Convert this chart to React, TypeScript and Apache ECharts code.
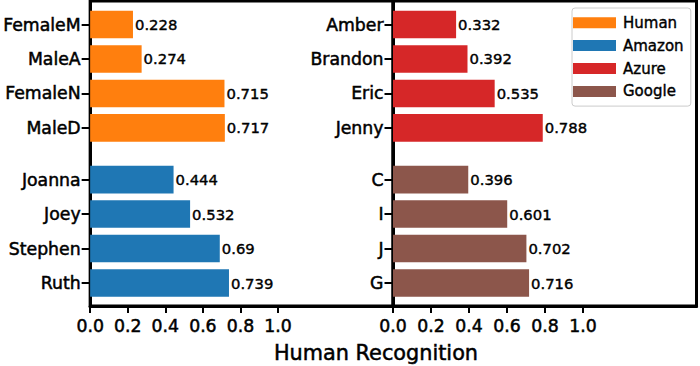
import React, { useEffect, useRef } from 'react';
import * as echarts from 'echarts';

const humanNames = ['FemaleM', 'MaleA', 'FemaleN', 'MaleD'];
const humanValues = [0.228, 0.274, 0.715, 0.717];
const amazonNames = ['Joanna', 'Joey', 'Stephen', 'Ruth'];
const amazonValues = [0.444, 0.532, 0.69, 0.739];
const azureNames = ['Amber', 'Brandon', 'Eric', 'Jenny'];
const azureValues = [0.332, 0.392, 0.535, 0.788];
const googleNames = ['C', 'I', 'J', 'G'];
const googleValues = [0.396, 0.601, 0.702, 0.716];
const topRows = [0, 1, 2, 3];
const bottomRows = [4.5, 5.5, 6.5, 7.5];
const xTicks = [0, 0.2, 0.4, 0.6, 0.8, 1.0];
const xLabel = 'Human Recognition';
const legendNames = ['Human', 'Amazon', 'Azure', 'Google'];
const colors = ['#ff7f0e', '#1f77b4', '#d62728', '#8c564b'];

const FONT = 'DejaVu Sans';
const HEAVY = { textBorderColor: '#000', textBorderWidth: 0.5 };

function makeSeries(name: string, values: number[], rows: number[], color: string, idx: number) {
  return {
    type: 'custom',
    name,
    xAxisIndex: idx,
    yAxisIndex: idx,
    itemStyle: { color },
    encode: { x: 0, y: 1 },
    data: values.map((v, i) => [v, rows[i]]),
    renderItem: (params: any, api: any) => {
      const v = api.value(0);
      const p = api.value(1);
      const s = api.coord([0, p]);
      const e = api.coord([v, p]);
      const h = Math.abs(api.size([0, 0.8])[1]);
      return {
        type: 'group',
        children: [
          {
            type: 'rect',
            shape: { x: s[0], y: s[1] - h / 2, width: e[0] - s[0], height: h },
            style: { fill: color },
          },
          {
            type: 'text',
            x: e[0] + 2,
            y: e[1],
            style: {
              text: String(v),
              fill: '#000',
              stroke: '#000',
              lineWidth: 0.4,
              fontSize: 14.8,
              fontFamily: FONT,
              align: 'left',
              textAlign: 'left',
              verticalAlign: 'middle',
              textVerticalAlign: 'middle',
            },
          },
        ],
      };
    },
  };
}

export default function App() {
  const ref = useRef<HTMLDivElement>(null);
  useEffect(() => {
    document.body.style.margin = '0';
    const chart = echarts.init(ref.current!, null, { renderer: 'svg' });
    const rows = [...topRows, ...bottomRows];
    const names = [
      [...humanNames, ...amazonNames],
      [...azureNames, ...googleNames],
    ];
    const nameAt = (i: number, v: number) => {
      const k = rows.findIndex((r) => Math.abs(r - v) < 1e-6);
      return k >= 0 ? names[i][k] : '';
    };
    const tickLine = { color: '#000', width: 2 };
    const axisLine = { show: true, onZero: false, lineStyle: { color: '#000', width: 3 } };
    chart.setOption({
      animation: false,
      textStyle: { fontFamily: FONT },
      grid: [
        { left: 85, top: 1, width: 308, height: 305, show: true, borderColor: '#000', borderWidth: 3, backgroundColor: 'transparent' },
        { left: 393, top: 1, width: 303.5, height: 305, show: true, borderColor: '#000', borderWidth: 3, backgroundColor: 'transparent' },
      ],
      xAxis: [0, 1].map((i) => ({
        type: 'value',
        gridIndex: i,
        position: 'bottom',
        min: 0,
        max: i === 0 ? 1.612 : 1.597,
        splitLine: { show: false },
        axisLine,
        axisTick: { show: true, inside: false, customValues: xTicks, length: 7, lineStyle: tickLine },
        axisLabel: {
          customValues: xTicks,
          formatter: (v: number) => v.toFixed(1),
          fontSize: 17.3,
          color: '#000',
          margin: 11,
          fontFamily: FONT,
          ...HEAVY,
        },
      })),
      yAxis: [0, 1].map((i) => ({
        type: 'value',
        gridIndex: i,
        position: 'left',
        inverse: true,
        min: -0.682,
        max: 8.167,
        splitLine: { show: false },
        axisLine,
        axisTick: { show: true, inside: false, customValues: rows, length: 8.5, lineStyle: tickLine },
        axisLabel: {
          customValues: rows,
          formatter: (v: number) => nameAt(i, v),
          fontSize: 17.3,
          color: '#000',
          margin: 9.5,
          fontFamily: FONT,
          ...HEAVY,
        },
      })),
      legend: {
        data: legendNames,
        orient: 'vertical',
        left: 572,
        top: 8,
        icon: 'rect',
        itemWidth: 43,
        itemHeight: 11,
        itemGap: 7.5,
        padding: [7, 7, 7, 1],
        borderColor: '#cccccc',
        borderWidth: 1,
        borderRadius: 3,
        backgroundColor: '#fff',
        textStyle: { fontSize: 15, color: '#000', fontFamily: FONT, padding: [0, 0, 0, 2], textBorderColor: '#000', textBorderWidth: 0.4 },
      },
      graphic: [
        {
          type: 'text',
          x: 376,
          y: 353,
          style: {
            text: xLabel,
            fontSize: 20.8,
            fontFamily: FONT,
            fill: '#000',
            stroke: '#000',
            lineWidth: 0.5,
            align: 'center',
            textAlign: 'center',
            verticalAlign: 'middle',
            textVerticalAlign: 'middle',
          },
        },
      ],
      series: [
        makeSeries(legendNames[0], humanValues, topRows, colors[0], 0),
        makeSeries(legendNames[1], amazonValues, bottomRows, colors[1], 0),
        makeSeries(legendNames[2], azureValues, topRows, colors[2], 1),
        makeSeries(legendNames[3], googleValues, bottomRows, colors[3], 1),
      ],
    });
    return () => chart.dispose();
  }, []);
  return <div ref={ref} style={{ position: 'absolute', left: 0, top: 0, width: 700, height: 366 }} />;
}
